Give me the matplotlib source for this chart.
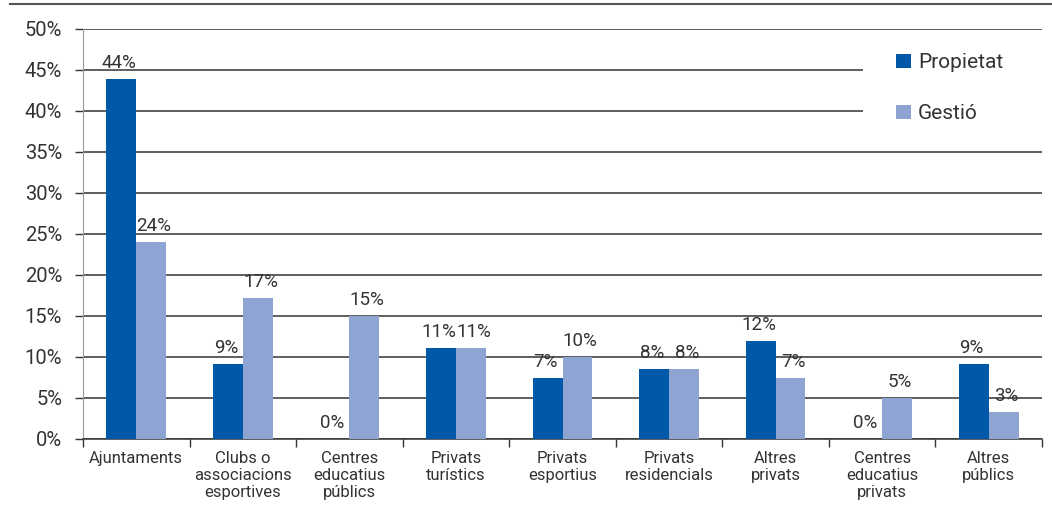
import matplotlib
matplotlib.use("Agg")
import matplotlib.pyplot as plt
from matplotlib.patches import Rectangle
import numpy as np

plt.rcParams['font.family'] = ['Roboto', 'DejaVu Sans']

categories = ["Ajuntaments", "Clubs o\nassociacions\nesportives", "Centres\neducatius\npúblics",
              "Privats\nturístics", "Privats\nesportius", "Privats\nresidencials",
              "Altres\nprivats", "Centres\neducatius\nprivats", "Altres\npúblics"]
propietat = [43.9, 9.1, 0.0, 11.1, 7.4, 8.5, 12.0, 0.0, 9.1]
gestio = [24.0, 17.2, 15.0, 11.1, 10.0, 8.5, 7.4, 5.0, 3.3]
propietat_labels = ["44%", "9%", "0%", "11%", "7%", "8%", "12%", "0%", "9%"]
gestio_labels = ["24%", "17%", "15%", "11%", "10%", "8%", "7%", "5%", "3%"]
yticks = [0, 5, 10, 15, 20, 25, 30, 35, 40, 45, 50]

dark = "#0058A8"
light = "#8EA5D4"
txt = "#333333"

fig = plt.figure(figsize=(10.52, 5.15), dpi=100)
ax = fig.add_axes([0.0789, 0.1476, 0.9116, 0.7961])

x = np.arange(len(categories))
w = 0.28
b1 = ax.bar(x - w / 2, propietat, w, color=dark, label="Propietat", zorder=3)
b2 = ax.bar(x + w / 2, gestio, w, color=light, label="Gestió", zorder=3)

for bar, lab in zip(b1, propietat_labels):
    ax.annotate(lab, (bar.get_x() + bar.get_width() / 2, bar.get_height()),
                xytext=(-1.5, 5), textcoords="offset points", ha="center", va="bottom",
                fontsize=13.5, color=txt, zorder=4)
for bar, lab in zip(b2, gestio_labels):
    ax.annotate(lab, (bar.get_x() + bar.get_width() / 2, bar.get_height()),
                xytext=(2, 5), textcoords="offset points", ha="center", va="bottom",
                fontsize=13.5, color=txt, zorder=4)

ax.set_xlim(-0.5, len(categories) - 0.5)
ax.set_ylim(0, 50)
ax.set_yticks(yticks)
ax.set_yticklabels([f"{v}%" for v in yticks], fontsize=14.5, color=txt)
ax.yaxis.grid(True, color="#333333", linewidth=1.1, zorder=0)
ax.set_axisbelow(True)

ax.set_xticks(x)
ax.set_xticklabels(categories, fontsize=12, color=txt, linespacing=1.15)
ax.set_xticks(np.arange(len(categories) + 1) - 0.5, minor=True)
ax.tick_params(axis="x", which="major", length=0, pad=9)
ax.tick_params(axis="x", which="minor", length=6, color="#333333", width=1)
ax.tick_params(axis="y", length=6, color="#333333", width=1, pad=9)

for s in ["top", "right"]:
    ax.spines[s].set_visible(False)
ax.spines["left"].set_color("#999999")
ax.spines["bottom"].set_color("#333333")
ax.spines["bottom"].set_linewidth(1.1)

# white box behind the legend hides the gridlines there
ax.add_patch(Rectangle((0.8133, 36.6), 0.1867, 12.6, transform=ax.get_yaxis_transform(),
                       facecolor="white", edgecolor="none", zorder=1))

leg = ax.legend(loc="upper left", bbox_to_anchor=(0.848, 0.941), frameon=False,
                fontsize=15, handlelength=0.7, handleheight=0.7, handletextpad=0.35,
                labelspacing=1.55, borderpad=0, borderaxespad=0)
for t in leg.get_texts():
    t.set_color(txt)

fig.add_artist(plt.Line2D([0.0095, 1.0], [0.9922, 0.9922], color="#555555", linewidth=1.5))

fig.savefig("out.png", dpi=100)
